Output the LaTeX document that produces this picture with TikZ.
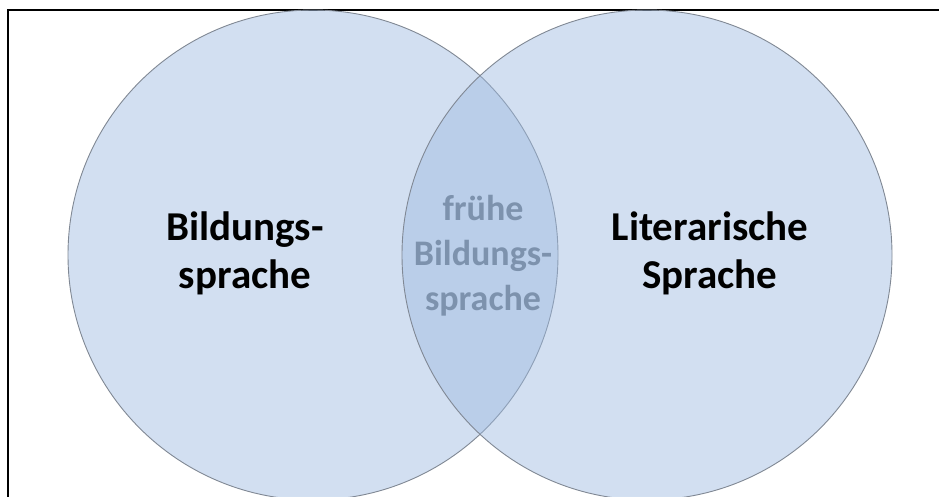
\documentclass[tikz,border=0pt]{standalone}
\usepackage{fontspec}
\setmainfont{Carlito}
\usepackage{tikz}
\usetikzlibrary{shapes.geometric}
\definecolor{vennblue}{RGB}{157,186,224}
\definecolor{venngray}{RGB}{128,136,148}
\definecolor{schnitttext}{RGB}{125,146,173}
\tikzstyle{venn} = [circle, minimum size=490pt, inner sep=0pt, draw=venngray, line width=0.9pt, fill=vennblue, fill opacity=0.45]
\tikzstyle{haupttext} = [align=center, text=black, font=\fontsize{41}{48}\selectfont\bfseries]
\tikzstyle{schnitt} = [align=center, text=schnitttext, font=\fontsize{36}{45}\selectfont\bfseries]
\tikzstyle{rahmen} = [draw=black, line width=2pt]

\begin{document}
\begin{tikzpicture}[x=1pt, y=-1pt]
        \clip (0,0) rectangle (939,496);
        \fill[white] (0,0) rectangle (939,496);
        \draw [rahmen] (8,10) rectangle (950,520);

        \node (links) [venn] at (313,255) {};
        \node (rechts) [venn] at (647,255) {};

        \node (bildung) [haupttext] at (245,253) {Bildungs-\\sprache};
        \node (literatur) [haupttext] at (710,253) {Literarische\\Sprache};
        \node (frueh) [schnitt] at (483,256) {frühe\\Bildungs-\\sprache};
\end{tikzpicture}
\end{document}
